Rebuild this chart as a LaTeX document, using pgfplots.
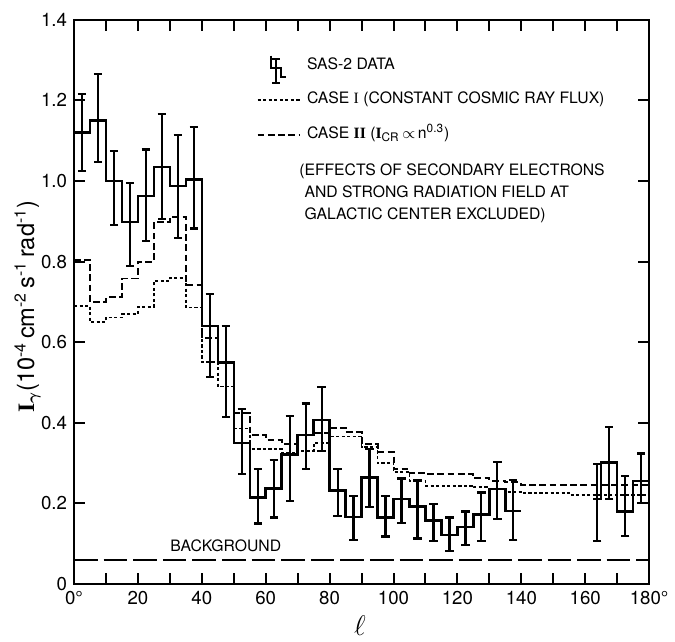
\documentclass[border=0pt]{standalone}
\usepackage{amsmath}
\usepackage{pgfplots}
\pgfplotsset{compat=1.18}
\usepackage{fontspec}
\setmainfont{TeX Gyre Heros}
\setsansfont{TeX Gyre Heros}
\newfontfamily\serif{Liberation Serif}

\begin{document}
\begin{tikzpicture}
\begin{axis}[
  at={(0,0)}, anchor=south west,
  scale only axis, width=291.5bp, height=286bp,
  xmin=0, xmax=180, ymin=0, ymax=1.4,
  axis line style={line width=1bp},
  tick align=inside, xtick pos=both, ytick pos=both,
  xtick={0,20,40,60,80,100,120,140,160,180},
  minor xtick={10,30,50,70,90,110,130,150,170},
  xticklabels={0°,20,40,60,80,100,120,140,160,180°},
  ytick={0,0.2,0.4,0.6,0.8,1.0,1.2,1.4},
  yticklabels={0,0.2,0.4,0.6,0.8,1.0,1.2,1.4},
  major tick length=5.5bp, minor tick length=5.5bp,
  every tick/.style={black, line width=1bp},
  tick label style={font=\fontsize{9.5}{11}\selectfont},
  /pgf/number format/assume math mode=true,
  xlabel={$\ell$},
  xlabel style={font=\fontsize{14}{14}\selectfont, at={(rel axis cs:0.497,0)}, anchor=center, yshift=-21bp},
  ylabel={{\serif\bfseries I}$_{\boldsymbol{\gamma}}$(10\textsuperscript{-4}\,cm\textsuperscript{-2}\,s\textsuperscript{-1}\,rad\textsuperscript{-1})},
  ylabel style={font=\fontsize{12}{14}\selectfont, at={(rel axis cs:-0.0806,0.491)}, anchor=center},
  legend style={at={(rel axis cs:0.317,0.9336)}, anchor=north west, draw=none, fill=none,
    inner sep=0pt, row sep=9.5bp, font=\fontsize{8}{9.6}\selectfont,
    nodes={inner sep=0pt, text height=6bp, text depth=2bp},
    /tikz/every odd column/.append style={column sep=3bp}},
  legend cell align=left,
]
% background level
\addplot[forget plot, black, line width=0.9bp, dash pattern=on 12bp off 3bp] coordinates {(0,0.06) (180,0.06)};
% case I (constant cosmic ray flux)
\addplot[forget plot, black, line width=0.9bp, dash pattern=on 1.6bp off 1.2bp, const plot] coordinates {
(0,0.69) (5,0.65) (10,0.661) (15,0.67) (20,0.688) (25,0.751) (30,0.759) (35,0.686)
(40,0.55) (45,0.49) (50,0.386) (55,0.335) (65,0.325) (70,0.33) (75,0.35) (80,0.366)
(90,0.34) (95,0.30) (100,0.278) (105,0.256) (110,0.244) (125,0.24) (130,0.236)
(135,0.229) (140,0.226) (155,0.221) (180,0.221)};
% case II
\addplot[forget plot, black, line width=1bp, dash pattern=on 3.4bp off 1.8bp, const plot] coordinates {
(0,0.805) (5,0.70) (10,0.712) (15,0.758) (20,0.80) (25,0.898) (30,0.911) (35,0.742)
(40,0.61) (45,0.548) (50,0.425) (55,0.37) (60,0.358) (65,0.348) (70,0.37) (75,0.375)
(80,0.387) (85,0.376) (90,0.347) (95,0.327) (100,0.285) (105,0.275) (110,0.272)
(125,0.262) (130,0.256) (135,0.252) (140,0.245) (180,0.245)};
% SAS-2 data, steps
\addplot[forget plot, black, line width=1.25bp, const plot] coordinates {
(0,1.12) (5,1.15) (10,1.0) (15,0.898) (20,0.963) (25,1.035) (30,0.988) (35,1.004)
(40,0.64) (45,0.55) (50,0.35) (55,0.215) (60,0.237) (65,0.321) (70,0.37) (75,0.407)
(80,0.232) (85,0.166) (90,0.264) (95,0.165) (100,0.211) (105,0.192) (110,0.158)
(115,0.122) (120,0.142) (125,0.173) (130,0.236) (135,0.181) (140,0.181)};
\addplot[forget plot, black, line width=1.25bp, const plot] coordinates {
(162.5,0.211) (165,0.301) (170,0.18) (175,0.256) (180,0.256)};
% SAS-2 data, error bars
\addplot[forget plot, draw=none, mark=none,
  error bars/.cd, y dir=both, y explicit,
  error bar style={draw=black, solid, line width=1.1bp},
  error mark options={draw=black, solid, rotate=90, mark size=2.1bp, line width=1.1bp}]
coordinates {
(2.5,1.12) +- (0,0.095)   (7.5,1.156) +- (0,0.109)  (12.5,0.9825) +- (0,0.0925)
(17.5,0.892) +- (0,0.102) (22.5,0.965) +- (0,0.113) (27.5,1.0355) +- (0,0.1305)
(32.5,0.9855) +- (0,0.1275) (37.5,1.0075) +- (0,0.1255) (42.5,0.616) +- (0,0.103)
(47.5,0.5275) +- (0,0.1125) (52.5,0.3535) +- (0,0.0815) (57.5,0.2175) +- (0,0.0675)
(62.5,0.2365) +- (0,0.0715) (67.5,0.312) +- (0,0.105) (72.5,0.367) +- (0,0.081)
(77.5,0.4095) +- (0,0.0795) (82.5,0.2265) +- (0,0.0585) (87.5,0.1635) +- (0,0.0545)
(92.5,0.2625) +- (0,0.0715) (97.5,0.168) +- (0,0.05) (102.5,0.207) +- (0,0.055)
(107.5,0.186) +- (0,0.073) (112.5,0.153) +- (0,0.046) (117.5,0.123) +- (0,0.042)
(122.5,0.1385) +- (0,0.0415) (127.5,0.167) +- (0,0.06) (132.5,0.2325) +- (0,0.0705)
(137.5,0.1835) +- (0,0.0745) (163.75,0.202) +- (0,0.095) (167.5,0.30) +- (0,0.089)
(172.5,0.194) +- (0,0.074) (177.5,0.2625) +- (0,0.0615)};
% legend
\addlegendimage{legend image code/.code={
  \path[draw=none, fill=none] (0,-2bp) rectangle (21.5bp,2bp);
  \draw[overlay, black, solid, line width=1bp] (6.5bp,5bp) -- (6.5bp,-1.5bp) -- (12bp,-1.5bp) -- (12bp,-6bp) -- (14.5bp,-6bp);
  \draw[overlay, black, solid, line width=1bp] (9.3bp,3.2bp) -- (9.3bp,-9bp) (7.3bp,3.2bp) -- (11.3bp,3.2bp) (7.3bp,-9bp) -- (11.3bp,-9bp);}}
\addlegendentry{SAS-2 DATA}
\addlegendimage{legend image code/.code={
  \path[draw=none, fill=none] (0,-2bp) rectangle (21.5bp,2bp);
  \draw[black, line width=0.9bp, dash pattern=on 1.6bp off 1.2bp] (0,0) -- (21.5bp,0);}}
\addlegendentry{CASE {\serif I} (CONSTANT COSMIC RAY FLUX)}
\addlegendimage{legend image code/.code={
  \path[draw=none, fill=none] (0,-2bp) rectangle (21.5bp,2bp);
  \draw[black, line width=1bp, dash pattern=on 3.4bp off 1.8bp] (0,0) -- (21.5bp,0);}}
\addlegendentry{CASE {\serif\bfseries II} ({\serif\bfseries I}\textsubscript{CR}\,$\propto$\,n\textsuperscript{0.3})}
\node[anchor=north west, align=left, inner sep=0pt, font=\fontsize{8}{11}\selectfont]
  at (rel axis cs:0.391,0.745)
  {(EFFECTS OF SECONDARY ELECTRONS\\\phantom{(}AND STRONG RADIATION FIELD AT\\\phantom{(}GALACTIC CENTER EXCLUDED)};
\node[font=\fontsize{8}{9}\selectfont, inner sep=0pt] at (axis cs:47.5,0.095) {BACKGROUND};
\end{axis}
\path[use as bounding box] (-37.5bp,-23.5bp) rectangle (300bp,296bp);
\end{tikzpicture}
\end{document}
